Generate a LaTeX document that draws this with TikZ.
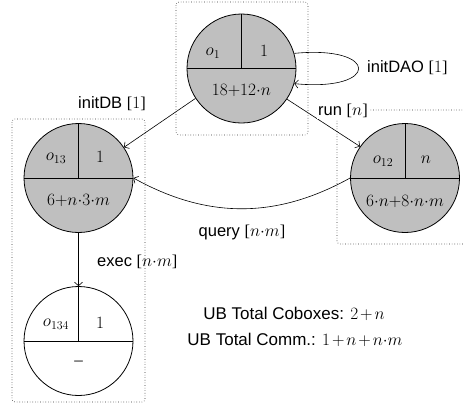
\documentclass[tikz,border=0pt]{standalone}
\usepackage{fontspec}
\setmainfont{Liberation Serif}
\setsansfont{Liberation Sans}
\usetikzlibrary{arrows.meta}
\newcommand{\bk}[1]{{\rmfamily[}#1{\rmfamily]}}
\begin{document}
\begin{tikzpicture}[x=1pt,y=-1pt,
  cb/.style={circle, draw, minimum size=109pt, inner sep=0pt, line width=0.8pt},
  full/.style={fill=black!25},
  divider/.style={line width=0.8pt},
  ctext/.style={inner sep=0pt, font=\fontsize{17}{20}\selectfont},
  lbl/.style={inner sep=1pt, font=\sffamily\fontsize{16.5}{20}\selectfont},
  total/.style={inner sep=1pt, font=\sffamily\fontsize{17}{20}\selectfont},
  conn/.style={-{Straight Barb[length=3.5pt,width=8pt]}, line width=0.6pt},
  cbox/.style={dotted, line width=0.6pt, draw=black!80, rounded corners=3pt}]
\useasboundingbox (0,0) rectangle (464,408);
% dotted boxes
\draw[cbox] (176,2) rectangle (308,135);
\draw[cbox] (12,119) rectangle (145,402);
\draw[cbox] (337,110) rectangle (472,244);
% circles
\node[cb, full] (o1) at (241.5,68.5) {};
\node[cb, full] (o13) at (78.5,178) {};
\node[cb, full] (o12) at (405,178) {};
\node[cb, fill=white] (o134) at (78.5,341) {};
\foreach \c in {o1,o13,o12,o134}{
  \draw[divider] (\c.west) -- (\c.east);
  \draw[divider] (\c.north) -- (\c.center);
}
% circle texts
\node[ctext] (o1a) at (213,53) {$o_{1}$};
\node[ctext] (o1b) at (264,51) {$1$};
\node[ctext] (o1c) at (241.5,90) {$18{+}12{\cdot}n$};
\node[ctext] (o13a) at (56,158) {$o_{13}$};
\node[ctext] (o13b) at (100,157) {$1$};
\node[ctext] (o13c) at (78.5,200) {$6{+}n{\cdot}3{\cdot}m$};
\node[ctext] (o12a) at (383,161) {$o_{12}$};
\node[ctext] (o12b) at (426,160) {$n$};
\node[ctext] (o12c) at (405,201) {$6{\cdot}n{+}8{\cdot}n{\cdot}m$};
\node[ctext] (o134a) at (56,324) {$o_{134}$};
\node[ctext] (o134b) at (100,323) {$1$};
\node[ctext] (o134c) at (78.5,363) {--};
% connectors
\draw[conn] (o1.16) .. controls (380,45) and (380,92) .. (o1.-16);
\draw[conn] (o1.213) -- (o13.34);
\draw[conn] (o1.-34) -- (o12.145);
\draw[conn] (o12.west) to[bend left=29] (o13.east);
\draw[conn] (o13.south) -- (o134.north);
% labels
\node[lbl, anchor=west] (l1) at (366,68) {initDAO \bk{$1$}};
\node[lbl] (l2) at (112,104) {initDB \bk{$1$}};
\node[lbl, fill=white] (l3) at (343,111) {run \bk{$n$}};
\node[lbl] (l4) at (242,232) {query \bk{$n{\cdot}m$}};
\node[lbl, anchor=west] (l5) at (96,262) {exec \bk{$n{\cdot}m$}};
\node[total] (t1) at (294,314) {UB Total Coboxes: $2\mkern2mu{+}\mkern2mu n$};
\node[total] (t2) at (295,340) {UB Total Comm.: $1\mkern2mu{+}\mkern2mu n\mkern2mu{+}\mkern2mu n{\cdot}m$};
\end{tikzpicture}
\end{document}
